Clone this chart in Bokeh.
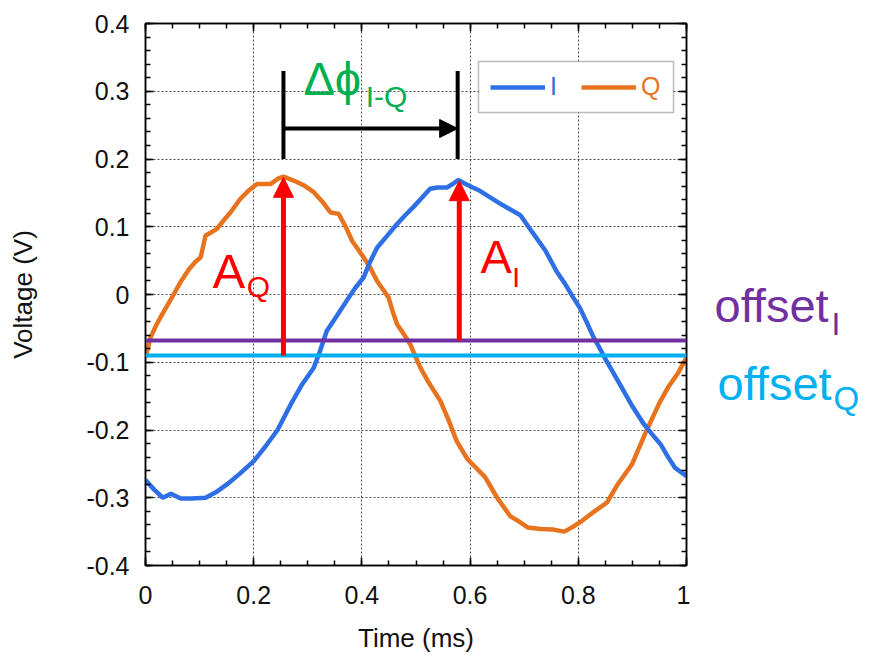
from bokeh.plotting import figure
from bokeh.layouts import row
from bokeh.models import (Range1d, LinearAxis, FixedTicker, Label, Legend, LegendItem,
                          Arrow, NormalHead, Span, BoxAnnotation)
from bokeh.embed import file_html
from bokeh.resources import INLINE

# ---------------- data ----------------
t_I = [0.0, 0.016, 0.032, 0.047, 0.065, 0.085, 0.111, 0.13, 0.151, 0.175, 0.2, 0.222,
       0.244, 0.27, 0.29, 0.311, 0.322, 0.335, 0.355, 0.372, 0.388, 0.403, 0.415, 0.428,
       0.445, 0.465, 0.48, 0.495, 0.51, 0.526, 0.54, 0.557, 0.568, 0.578, 0.59, 0.605,
       0.618, 0.64, 0.66, 0.693, 0.715, 0.739, 0.76, 0.776, 0.791, 0.803, 0.815, 0.828,
       0.84, 0.852, 0.868, 0.883, 0.9, 0.92, 0.935, 0.952, 0.966, 0.979, 1.0]
v_I = [-0.274, -0.288, -0.300, -0.294, -0.301, -0.301, -0.300, -0.292, -0.280, -0.264,
       -0.246, -0.224, -0.200, -0.160, -0.132, -0.108, -0.085, -0.054, -0.030, -0.009,
       0.010, 0.025, 0.048, 0.069, 0.085, 0.104, 0.117, 0.129, 0.142, 0.156, 0.158, 0.158,
       0.163, 0.169, 0.164, 0.158, 0.153, 0.142, 0.132, 0.117, 0.092, 0.065, 0.034, 0.015,
       -0.005, -0.020, -0.040, -0.063, -0.080, -0.098, -0.120, -0.141, -0.165, -0.190,
       -0.205, -0.221, -0.240, -0.256, -0.268]

t_Q = [0.0, 0.009, 0.02, 0.031, 0.042, 0.052, 0.066, 0.08, 0.092, 0.102, 0.111, 0.122,
       0.132, 0.145, 0.157, 0.175, 0.19, 0.206, 0.231, 0.245, 0.255, 0.268, 0.28, 0.295,
       0.311, 0.327, 0.342, 0.357, 0.37, 0.382, 0.403, 0.415, 0.428, 0.449, 0.457, 0.465,
       0.477, 0.489, 0.508, 0.522, 0.545, 0.56, 0.575, 0.595, 0.61, 0.628, 0.65, 0.674,
       0.69, 0.707, 0.73, 0.754, 0.774, 0.79, 0.807, 0.83, 0.853, 0.873, 0.899, 0.926,
       0.95, 0.966, 0.985, 1.0]
v_Q = [-0.093, -0.064, -0.045, -0.029, -0.014, 0.000, 0.020, 0.037, 0.048, 0.055, 0.087,
       0.092, 0.097, 0.110, 0.121, 0.141, 0.153, 0.163, 0.163, 0.171, 0.174, 0.170, 0.166,
       0.160, 0.151, 0.137, 0.121, 0.119, 0.100, 0.079, 0.055, 0.040, 0.020, -0.004,
       -0.025, -0.044, -0.058, -0.073, -0.108, -0.128, -0.157, -0.185, -0.216, -0.243,
       -0.255, -0.270, -0.300, -0.327, -0.335, -0.344, -0.346, -0.347, -0.350, -0.343,
       -0.334, -0.320, -0.307, -0.280, -0.251, -0.201, -0.160, -0.137, -0.115, -0.093]

x_ticks = [0.0, 0.2, 0.4, 0.6, 0.8, 1.0]
x_tick_labels = ["0", "0.2", "0.4", "0.6", "0.8", "1"]
y_ticks = [-0.4, -0.3, -0.2, -0.1, 0.0, 0.1, 0.2, 0.3, 0.4]
y_tick_labels = ["-0.4", "-0.3", "-0.2", "-0.1", "0", "0.1", "0.2", "0.3", "0.4"]

offset_I = -0.068
offset_Q = -0.090
peak_t_Q, peak_v_Q = 0.255, 0.173
peak_t_I, peak_v_I = 0.580, 0.168
bracket_t = [0.255, 0.577]
bracket_bottom, bracket_top, bracket_arrow_v = 0.200, 0.330, 0.245

# ---------------- style ----------------
FONT = "Liberation Sans"
BLUE = "#2F6FE6"
ORANGE = "#E8731E"
PURPLE = "#7030A0"
CYAN = "#00B0F0"
RED = "#FF0000"
GREEN = "#00B050"
PX_PER_UNIT = 677.5  # vertical pixels per volt in the frame

x_minor = [round(i * 0.05, 3) for i in range(21)]
y_minor = [round(-0.4 + i * 0.02, 3) for i in range(41)]

yr = Range1d(-0.4, 0.4)
p = figure(width=690, height=659, x_range=Range1d(0, 1), y_range=yr,
           output_backend="svg", toolbar_location=None,
           min_border_left=145, min_border_right=4, min_border_top=23, min_border_bottom=94,
           x_axis_label="Time (ms)", y_axis_label="Voltage (V)")
p.background_fill_color = "white"
p.border_fill_color = "white"
p.outline_line_color = "black"
p.outline_line_width = 1.5


def style_axis(ax, ticks, labels, minor, show_labels):
    ax.ticker = FixedTicker(ticks=ticks, minor_ticks=minor)
    if show_labels:
        ax.major_label_overrides = {t: l for t, l in zip(ticks, labels)}
        ax.major_label_text_font_size = "25px"
    else:
        ax.major_label_overrides = {t: "" for t in ticks}
        ax.major_label_standoff = 0
    ax.major_tick_in = 8
    ax.major_tick_out = 0
    ax.minor_tick_in = 5
    ax.minor_tick_out = 0
    ax.major_tick_line_color = "black"
    ax.minor_tick_line_color = "black"
    ax.major_tick_line_width = 1.5
    ax.minor_tick_line_width = 1.5
    ax.axis_line_color = "black"
    ax.axis_line_width = 1.5
    ax.major_label_text_font = FONT
    ax.major_label_text_color = "#111111"


style_axis(p.xaxis[0], x_ticks, x_tick_labels, x_minor, True)
style_axis(p.yaxis[0], y_ticks, y_tick_labels, y_minor, True)
p.xaxis[0].major_label_standoff = 20
p.yaxis[0].major_label_standoff = 16
for ax in (p.xaxis[0], p.yaxis[0]):
    ax.axis_label_text_font = FONT
    ax.axis_label_text_font_size = "26px"
    ax.axis_label_text_font_style = "normal"
    ax.axis_label_text_color = "#111111"
p.xaxis[0].axis_label_standoff = 16
p.yaxis[0].axis_label_standoff = 45

top_ax = LinearAxis()
style_axis(top_ax, x_ticks, x_tick_labels, x_minor, False)
p.add_layout(top_ax, "above")
right_ax = LinearAxis()
style_axis(right_ax, y_ticks, y_tick_labels, y_minor, False)
p.add_layout(right_ax, "right")

p.grid.grid_line_color = "#222222"
p.grid.grid_line_dash = "2 2"
p.grid.grid_line_width = 1
p.grid.grid_line_alpha = 0.8

# offsets
p.add_layout(Span(location=offset_I, dimension="width", line_color=PURPLE, line_width=4))
p.add_layout(Span(location=offset_Q, dimension="width", line_color=CYAN, line_width=4))

# curves
rQ = p.line(t_Q, v_Q, line_color=ORANGE, line_width=4.5)
rI = p.line(t_I, v_I, line_color=BLUE, line_width=4.5)

# amplitude arrows
p.add_layout(Arrow(end=NormalHead(size=20, fill_color=RED, line_color=RED),
                   x_start=peak_t_Q, y_start=offset_Q, x_end=peak_t_Q, y_end=peak_v_Q,
                   line_color=RED, line_width=5))
p.add_layout(Arrow(end=NormalHead(size=20, fill_color=RED, line_color=RED),
                   x_start=peak_t_I, y_start=offset_I, x_end=peak_t_I, y_end=peak_v_I,
                   line_color=RED, line_width=5))

# phase bracket
p.segment(x0=bracket_t, y0=[bracket_bottom] * 2, x1=bracket_t, y1=[bracket_top] * 2,
          line_color="black", line_width=4)
p.add_layout(Arrow(end=NormalHead(size=18, fill_color="black", line_color="black"),
                   x_start=bracket_t[0], y_start=bracket_arrow_v,
                   x_end=bracket_t[1], y_end=bracket_arrow_v,
                   line_color="black", line_width=4))

# legend
p.add_layout(BoxAnnotation(left=0.6155, right=0.976, top=0.344, bottom=0.2686,
                           fill_color="white", fill_alpha=1.0,
                           line_color="#222222", line_width=1.5))
for r, lab, col, xloc in ((rI, "I", BLUE, 345), (rQ, "Q", ORANGE, 436)):
    leg = Legend(items=[LegendItem(label=lab, renderers=[r])], location=(xloc, 464),
                 orientation="horizontal", glyph_width=55, glyph_height=28, label_height=28,
                 label_standoff=5, padding=0, margin=0, spacing=0,
                 label_text_font=FONT, label_text_font_size="25px", label_text_color=col,
                 background_fill_alpha=0, border_line_alpha=0)
    p.add_layout(leg)


def lab(fig, x, y, text, color, size):
    # raise by an empirical fraction of the font size so the glyph baseline sits at y
    y_adj = y + 0.36 * size / PX_PER_UNIT
    fig.add_layout(Label(x=x, y=y_adj, text=text, text_color=color, text_font=FONT,
                         text_font_size=f"{size}px", text_baseline="alphabetic",
                         text_align="left"))


lab(p, 0.292, 0.294, "Δϕ", GREEN, 47)
lab(p, 0.407, 0.276, "I-Q", GREEN, 30)
lab(p, 0.124, 0.009, "A", RED, 49)
lab(p, 0.187, -0.004, "Q", RED, 30)
lab(p, 0.619, 0.031, "A", RED, 47)
lab(p, 0.678, 0.010, "I", RED, 28)

# side panel for offset labels (x in canvas pixels)
side = figure(width=180, height=659, x_range=Range1d(690, 870), y_range=yr,
              output_backend="svg", toolbar_location=None,
              x_axis_location=None, y_axis_location=None,
              min_border_left=0, min_border_right=0, min_border_top=23, min_border_bottom=94)
side.outline_line_color = None
side.grid.visible = False
side.background_fill_color = "white"
side.border_fill_color = "white"

lab(side, 714, -0.0413, "offset", PURPLE, 47)
lab(side, 831, -0.0605, "I", PURPLE, 32)
lab(side, 717, -0.1565, "offset", CYAN, 47)
lab(side, 833, -0.171, "Q", CYAN, 33)

layout = row(p, side, spacing=0)
open("out.html", "w").write(file_html(layout, INLINE))
